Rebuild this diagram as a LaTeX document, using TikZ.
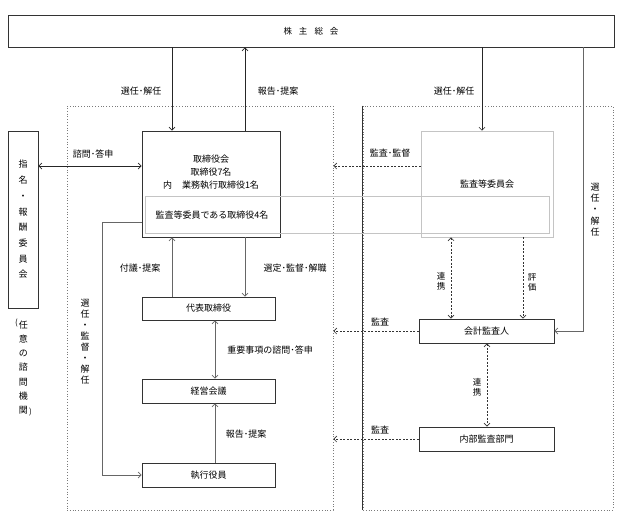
\documentclass[tikz,border=0pt]{standalone}
\usepackage{fontspec}
\setmainfont{Noto Sans CJK JP}
\usetikzlibrary{arrows.meta}
\definecolor{boxline}{HTML}{333333}
\definecolor{lightline}{HTML}{C4C4C4}
\definecolor{dotline}{HTML}{7A7A7A}
\definecolor{arrgray}{HTML}{666666}
\tikzset{
  box/.style={draw=boxline, line width=0.9pt, fill=white, inner sep=0pt},
  lightbox/.style={draw=lightline, line width=0.8pt, inner sep=0pt},
  dotbox/.style={draw=dotline, dotted, line width=0.8pt, inner sep=0pt},
  lbl/.style={font=\fontsize{9}{11}\selectfont, inner sep=0pt},
  vlbl/.style={font=\fontsize{9}{11}\selectfont, inner sep=0pt, align=center},
  arr/.style={draw=black!85, line width=0.6pt, -{Straight Barb[length=3pt,width=6pt]}},
  garr/.style={draw=arrgray, line width=0.7pt, -{Straight Barb[length=3pt,width=6pt]}},
  dblarr/.style={draw=arrgray, line width=0.7pt, {Straight Barb[length=3pt,width=6pt]}-{Straight Barb[length=3pt,width=6pt]}},
  darr/.style={draw=black!80, line width=0.6pt, dash pattern=on 2pt off 1.5pt, -{Straight Barb[length=3pt,width=6pt]}},
  ddarr/.style={draw=black!80, line width=0.6pt, dash pattern=on 2pt off 1.5pt, {Straight Barb[length=3pt,width=6pt]}-{Straight Barb[length=3pt,width=6pt]}},
}
\begin{document}
\begin{tikzpicture}[x=1pt,y=-1pt]
\useasboundingbox (0,0) rectangle (622,517);
% dotted group boxes
\node[dotbox, minimum width=266pt, minimum height=404pt] (lbox) at (200,308) {};
\node[dotbox, minimum width=250pt, minimum height=404pt] (rbox) at (488,308) {};
\draw[boxline, line width=0.9pt] (rbox.north west) -- (rbox.south west);
% main boxes
\node[box, minimum width=606pt, minimum height=32pt, font=\fontsize{8.5}{10}\selectfont] (gm) at (311,31) {株\kern7pt 主\kern7pt 総\kern7pt 会};
\node[box, minimum width=138pt, minimum height=106pt] (bod) at (211,184) {};
\node[lbl, align=center, font=\fontsize{9}{13}\selectfont] (bodtxt) at (211,172) {取締役会\\取締役7名\\内\kern10pt 業務執行取締役1名};
\node[lightbox, fill=white, minimum width=132pt, minimum height=106pt] (acm) at (487,184) {};
\node[lbl] (acmtxt) at (487,184) {監査等委員会};
\node[lightbox, minimum width=404pt, minimum height=37pt] (inner) at (347,214.5) {};
\node[lbl] (innertxt) at (212,215) {監査等委員である取締役4名};
\node[box, minimum width=30pt, minimum height=177pt, align=center, font=\fontsize{9}{15.7}\selectfont] (nom) at (23,219.5) {指\\名\\・\\報\\酬\\委\\員\\会};
\node[box, minimum width=133pt, minimum height=23pt, font=\fontsize{9}{11}\selectfont] (rep) at (208.5,308.5) {代表取締役};
\node[box, minimum width=133pt, minimum height=24pt, font=\fontsize{9}{11}\selectfont] (mgmt) at (208.5,391) {経営会議};
\node[box, minimum width=133pt, minimum height=24pt, font=\fontsize{9}{11}\selectfont] (exe) at (208.5,475) {執行役員};
\node[box, minimum width=135pt, minimum height=24pt, font=\fontsize{9}{11}\selectfont] (aud) at (486.5,331) {会計監査人};
\node[box, minimum width=135pt, minimum height=24pt, font=\fontsize{9}{11}\selectfont] (ia) at (486.5,439) {内部監査部門};
% x positions of vertical connectors
\coordinate (xa) at (172,0);
\coordinate (xb) at (245,0);
\coordinate (xc) at (482,0);
\coordinate (xd) at (583,0);
\coordinate (xe) at (102,0);
\coordinate (xf) at (215,0);
\coordinate (xg) at (451,0);
\coordinate (xh) at (523,0);
\coordinate (xi) at (487,0);
\coordinate (ya) at (0,166);
\coordinate (yb) at (0,222);
% connectors
\draw[arr] (gm.south -| xa) -- (bod.north -| xa);
\draw[arr] (bod.north -| xb) -- (gm.south -| xb);
\draw[arr] (gm.south -| xc) -- (acm.north -| xc);
\draw[garr] (gm.south -| xd) |- (aud.east);
\draw[dblarr, draw=black!85] (nom.east |- ya) -- (bod.west |- ya);
\draw[darr] (acm.west |- ya) -- (lbox.east |- ya);
\draw[garr] (rep.north -| xa) -- (bod.south -| xa);
\draw[garr] (bod.south -| xb) -- (rep.north -| xb);
\draw[garr] (bod.west |- yb) -- (xe |- yb) |- (exe.west);
\draw[dblarr] (rep.south -| xf) -- (mgmt.north -| xf);
\draw[garr] (exe.north -| xf) -- (mgmt.south -| xf);
\draw[ddarr] (acm.south -| xg) -- (aud.north -| xg);
\draw[darr] (acm.south -| xh) -- (aud.north -| xh);
\draw[ddarr] (aud.south -| xi) -- (ia.north -| xi);
\draw[darr] (aud.west) -- (lbox.east |- aud.west);
\draw[darr] (ia.west) -- (lbox.east |- ia.west);
% labels
\node[lbl] (l1) at (141,91) {選任･解任};
\node[lbl] (l2) at (278,91) {報告･提案};
\node[lbl] (l3) at (454,91) {選任･解任};
\node[lbl] (l4) at (93,154) {諮問･答申};
\node[lbl] (l5) at (390,153) {監査･監督};
\node[lbl] (l6) at (140,268) {付議･提案};
\node[lbl] (l7) at (295,268) {選定･監督･解職};
\node[lbl] (l8) at (270,350) {重要事項の諮問･答申};
\node[lbl] (l9) at (246,434) {報告･提案};
\node[lbl] (l10) at (380,322) {監査};
\node[lbl] (l11) at (380,430) {監査};
\node[vlbl, font=\fontsize{9}{11}\selectfont] (v1) at (85,341.5) {選\\任\\・\\監\\督\\・\\解\\任};
\node[vlbl, font=\fontsize{9}{11.3}\selectfont] (v2) at (595,209.5) {選\\任\\・\\解\\任};
\node[vlbl, font=\fontsize{8.5}{10}\selectfont] (v3) at (441,281.5) {連\\携};
\node[vlbl, font=\fontsize{8.5}{10}\selectfont] (v4) at (532,282.5) {評\\価};
\node[vlbl, font=\fontsize{8.5}{10}\selectfont] (v5) at (477,387) {連\\携};
\node[vlbl, font=\fontsize{9}{14.2}\selectfont] (v6) at (23.5,367.5) {任\\意\\の\\諮\\問\\機\\関};
\node[lbl, font=\fontsize{8}{10}\selectfont] (p1) at (16.5,323) {(};
\node[lbl, font=\fontsize{8}{10}\selectfont] (p2) at (30.5,412) {)};
\end{tikzpicture}
\end{document}
